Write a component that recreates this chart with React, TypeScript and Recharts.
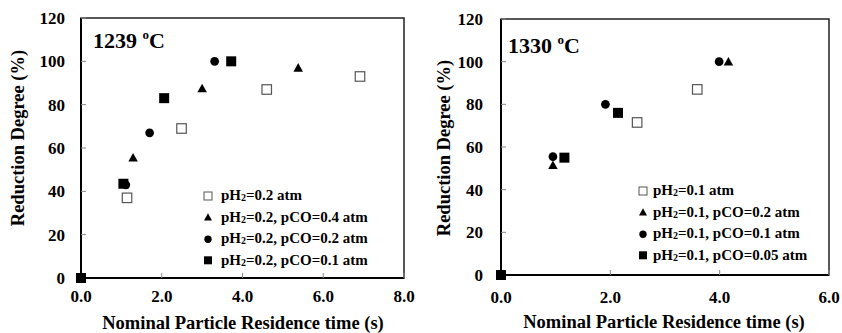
import React from "react"
import { ScatterChart, Scatter, XAxis, YAxis, ReferenceArea, Legend } from "recharts"

const FONT = '"Liberation Serif", "Times New Roman", serif'

// 1239 oC panel
const h2Only1239X = [1.14, 2.49, 4.6, 6.91]
const h2Only1239Y = [37, 69, 87, 93]
const co04X = [1.29, 3.0, 5.38]
const co04Y = [55.5, 87.5, 97]
const co02X = [1.11, 1.7, 3.31]
const co02Y = [43, 67, 100]
const co01X = [0, 1.05, 2.06, 3.72]
const co01Y = [0, 43.5, 83, 100]

// 1330 oC panel
const h2Only1330X = [2.49, 3.59]
const h2Only1330Y = [71.5, 87]
const co02bX = [0.95, 4.16]
const co02bY = [51.5, 100]
const co01bX = [0.95, 1.91, 3.99]
const co01bY = [55.5, 80, 100]
const co005X = [0, 1.16, 2.14]
const co005Y = [0, 55, 76]

const yTicks = [0, 20, 40, 60, 80, 100, 120]
const xTicks1239 = [0, 2, 4, 6, 8]
const xTicks1330 = [0, 2, 4, 6]

type Kind = "open" | "triangle" | "circle" | "square"

const toPoints = (xs: number[], ys: number[]) => xs.map((x, i) => ({ x, y: ys[i] }))

function Marker({ kind, cx, cy, s }: { kind: Kind; cx: number; cy: number; s: number }) {
  const h = s / 2
  if (kind === "open")
    return <rect x={cx - h} y={cy - h} width={s} height={s} fill="#fff" stroke="#555" strokeWidth={1.2} />
  if (kind === "square") return <rect x={cx - h} y={cy - h} width={s} height={s} fill="#000" />
  if (kind === "circle") return <circle cx={cx} cy={cy} r={h * 0.92} fill="#000" />
  return <polygon points={`${cx},${cy - h} ${cx + h},${cy + h * 0.8} ${cx - h},${cy + h * 0.8}`} fill="#000" />
}

function LegendMarker({ kind, gap }: { kind: Kind; gap: number }) {
  return (
    <svg width={10} height={10} style={{ marginRight: gap, flex: "none" }}>
      {kind === "open" ? (
        <rect x={1} y={1} width={8} height={8} fill="#fff" stroke="#555" strokeWidth={1} />
      ) : (
        <Marker kind={kind} cx={5} cy={5.3} s={8} />
      )}
    </svg>
  )
}

type Series = { kind: Kind; pH2: string; rest: string; xs: number[]; ys: number[] }

type PanelProps = {
  width: number
  margin: { top: number; right: number; bottom: number; left: number }
  yAxisWidth: number
  xMax: number
  xTicks: number[]
  xTickMargin: number
  yTickMargin: number
  title: string
  titlePos: [number, number]
  yTitlePos: [number, number]
  xTitlePos: [number, number]
  legendPos: [number, number]
  legendGap: number
  series: Series[]
  drawOrder: Kind[]
}

const textStyle = { fontFamily: FONT, fontWeight: 700 }

function Panel(p: PanelProps) {
  const tick = { fill: "#000", fontSize: 17, fontWeight: 700, fontFamily: FONT, style: textStyle }
  const ordered = p.drawOrder.map((k) => p.series.find((s) => s.kind === k)!)
  return (
    <ScatterChart width={p.width} height={333} margin={p.margin} style={{ fontFamily: FONT }}>
      <ReferenceArea x1={0} x2={p.xMax} y1={0} y2={120} fill="none" stroke="#222" strokeWidth={1.5} />
      <XAxis
        type="number"
        dataKey="x"
        domain={[0, p.xMax]}
        ticks={p.xTicks}
        tickFormatter={(v: number) => v.toFixed(1)}
        height={40}
        tickSize={-5}
        tickMargin={p.xTickMargin}
        tick={tick}
        tickLine={{ stroke: "#888" }}
        axisLine={{ stroke: "#000", strokeWidth: 2 }}
        label={{
          content: () => (
            <text
              x={p.xTitlePos[0]}
              y={p.xTitlePos[1]}
              textAnchor="middle"
              fontSize={18.5}
              fill="#000"
              style={textStyle}
            >
              Nominal Particle Residence time (s)
            </text>
          ),
        }}
      />
      <YAxis
        type="number"
        dataKey="y"
        domain={[0, 120]}
        ticks={yTicks}
        width={p.yAxisWidth}
        tickSize={-5}
        tickMargin={p.yTickMargin}
        tick={tick}
        tickLine={{ stroke: "#888" }}
        axisLine={{ stroke: "#000", strokeWidth: 2 }}
        label={{
          content: () => (
            <text
              x={p.yTitlePos[0]}
              y={p.yTitlePos[1]}
              transform={`rotate(-90 ${p.yTitlePos[0]} ${p.yTitlePos[1]})`}
              textAnchor="middle"
              dominantBaseline="central"
              fontSize={18.5}
              fill="#000"
              style={textStyle}
            >
              Reduction Degree (%)
            </text>
          ),
        }}
      />
      {ordered.map((s) => (
        <Scatter
          key={s.kind}
          name={`${s.pH2} ${s.rest}`}
          data={toPoints(s.xs, s.ys)}
          isAnimationActive={false}
          shape={(props: any) => (
            <Marker kind={s.kind} cx={props.cx} cy={props.cy} s={s.kind === "square" ? 10 : 9.5} />
          )}
        />
      ))}
      <Legend
        layout="vertical"
        align="center"
        verticalAlign="middle"
        wrapperStyle={{ left: p.legendPos[0], top: p.legendPos[1], width: 200, height: 90 }}
        content={() => (
          <div style={{ fontFamily: FONT, fontWeight: 700, fontSize: 15, color: "#000" }}>
            {p.series.map((s) => (
              <div key={s.kind} style={{ display: "flex", alignItems: "center", height: 21.5, whiteSpace: "nowrap" }}>
                <LegendMarker kind={s.kind} gap={p.legendGap} />
                <span>
                  pH<span style={{ fontSize: 10, position: "relative", top: 1 }}>2</span>={s.pH2}
                  {s.rest}
                </span>
              </div>
            ))}
          </div>
        )}
      />
      <text x={p.titlePos[0]} y={p.titlePos[1]} fontSize={22} fill="#000" style={textStyle}>
        {p.title}
        <tspan fontSize={13} dy={-9}>o</tspan>
        <tspan dy={9}>C</tspan>
      </text>
    </ScatterChart>
  )
}

const series1239: Series[] = [
  { kind: "open", pH2: "0.2", rest: " atm", xs: h2Only1239X, ys: h2Only1239Y },
  { kind: "triangle", pH2: "0.2", rest: ", pCO=0.4 atm", xs: co04X, ys: co04Y },
  { kind: "circle", pH2: "0.2", rest: ", pCO=0.2 atm", xs: co02X, ys: co02Y },
  { kind: "square", pH2: "0.2", rest: ", pCO=0.1 atm", xs: co01X, ys: co01Y },
]

const series1330: Series[] = [
  { kind: "open", pH2: "0.1", rest: " atm", xs: h2Only1330X, ys: h2Only1330Y },
  { kind: "triangle", pH2: "0.1", rest: ", pCO=0.2 atm", xs: co02bX, ys: co02bY },
  { kind: "circle", pH2: "0.1", rest: ", pCO=0.1 atm", xs: co01bX, ys: co01bY },
  { kind: "square", pH2: "0.1", rest: ", pCO=0.05 atm", xs: co005X, ys: co005Y },
]

const drawOrder: Kind[] = ["open", "triangle", "square", "circle"]

export default function App() {
  return (
    <div
      style={{
        position: "absolute",
        left: 0,
        top: 0,
        width: 842,
        height: 333,
        display: "flex",
        background: "#fff",
        fontFamily: FONT,
      }}
    >
      <Panel
        width={420}
        margin={{ top: 18, right: 16, bottom: 15, left: 0 }}
        yAxisWidth={81}
        xMax={8}
        xTicks={xTicks1239}
        xTickMargin={17}
        yTickMargin={21}
        title="1239 "
        titlePos={[93, 48]}
        yTitlePos={[18, 138]}
        xTitlePos={[243, 329]}
        legendPos={[203, 185]}
        legendGap={8}
        series={series1239}
        drawOrder={drawOrder}
      />
      <Panel
        width={422}
        margin={{ top: 19, right: 13, bottom: 18, left: 0 }}
        yAxisWidth={81}
        xMax={6}
        xTicks={xTicks1330}
        xTickMargin={21}
        yTickMargin={23}
        title="1330 "
        titlePos={[88, 53]}
        yTitlePos={[24, 148]}
        xTitlePos={[244, 328]}
        legendPos={[218, 180]}
        legendGap={5}
        series={series1330}
        drawOrder={drawOrder}
      />
    </div>
  )
}
